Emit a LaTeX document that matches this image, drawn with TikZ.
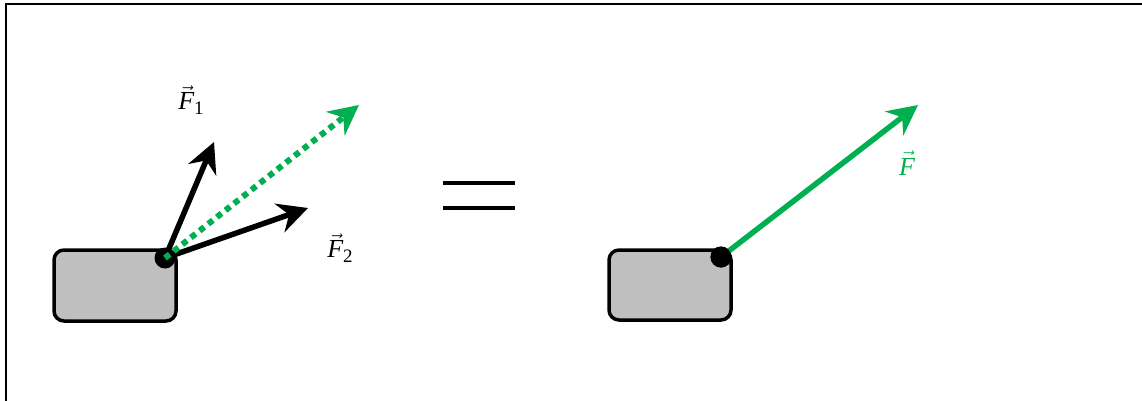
\documentclass[tikz,border=0pt]{standalone}
\usepackage{fontspec}
\newfontfamily\lblfont{Liberation Serif}
\usetikzlibrary{arrows.meta}
\definecolor{fgreen}{RGB}{0,176,80}
\definecolor{boxgray}{RGB}{191,191,191}
\newcommand{\vecF}{\ensuremath{\vec{\mbox{\lblfont\itshape F}}}}
\newcommand{\subnum}[1]{\raisebox{-5pt}{\lblfont\fontsize{19}{20}\selectfont #1}}
\begin{document}
\begin{tikzpicture}[x=1pt,y=-1pt,
  body/.style={draw=black,line width=3.5pt,fill=boxgray,rounded corners=10pt},
  pt/.style={circle,fill=black,inner sep=0pt,minimum size=21pt},
  force/.style={line width=5.5pt,-{Stealth[length=30pt,width=30pt,inset=10pt]}},
  lbl/.style={font=\fontsize{26}{30}\selectfont,inner sep=0pt}
]
\useasboundingbox (0,0) rectangle (1142,400);
\draw[line width=2.5pt] (6,420) -- (6,4) -- (1160,4);
% left body
\draw[body] (54,250) rectangle (176,321);
\node[pt] (d1) at (165,258) {};
\coordinate (t1) at (214,142);
\coordinate (t2) at (308,208);
\coordinate (tr) at (359,105);
\draw[force,black] (d1.center) -- (t1);
\draw[force,black] (d1.center) -- (t2);
\draw[line width=6pt,fgreen,dash pattern=on 6pt off 5pt,-{Stealth[length=30pt,width=30pt,inset=10pt,fgreen]}] (d1.center) -- (tr);
\node[lbl] (f1) at (191,100) {\vecF\subnum{1}};
\node[lbl] (f2) at (340,248) {\vecF\subnum{2}};
% equals
\coordinate (e1) at (443,183);
\coordinate (e2) at (515,183);
\coordinate (e3) at (443,208);
\coordinate (e4) at (515,208);
\draw[line width=4pt] (e1) -- (e2);
\draw[line width=4pt] (e3) -- (e4);
% right body
\draw[body] (609,250) rectangle (731,320);
\coordinate (tf) at (918,105);
\node[pt] (d2) at (721,257) {};
\draw[force,fgreen] (d2.center) -- (tf);
\node[pt] at (721,257) {};
\node[lbl,text=fgreen] (f) at (907,163) {\vecF};
\end{tikzpicture}
\end{document}
